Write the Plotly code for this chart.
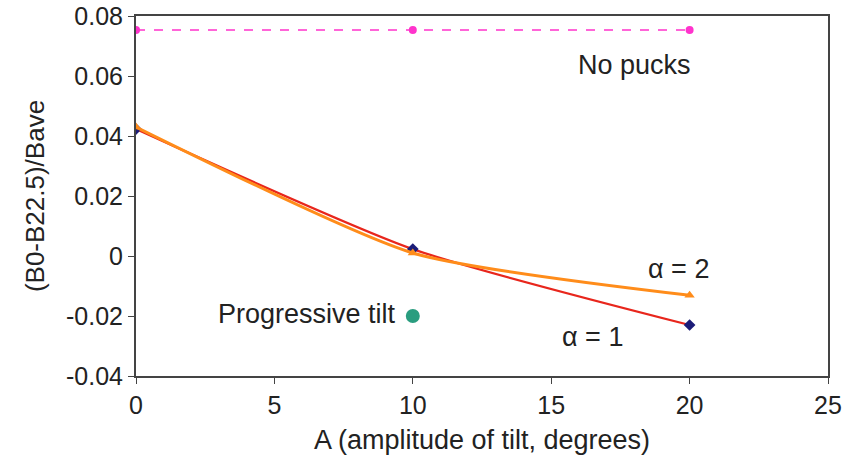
import plotly.graph_objects as go

x_vals = [0, 10, 20]
no_pucks = [0.0753, 0.0753, 0.0753]
alpha1 = [0.0423, 0.0023, -0.0230]
alpha2 = [0.0430, 0.0010, -0.0131]
prog_x = [10]
prog_y = [-0.0200]

font_family = "Liberation Sans, Arial, sans-serif"

fig = go.Figure()
fig.add_trace(go.Scatter(x=x_vals, y=no_pucks, mode="lines+markers",
                         line=dict(color="#ff33cc", width=1.5, dash="dash"),
                         marker=dict(color="#ff33cc", size=8, symbol="circle")))
fig.add_trace(go.Scatter(x=x_vals, y=alpha1, mode="lines+markers", line_shape="spline",
                         line=dict(color="#e8261c", width=2.2, smoothing=0.6),
                         marker=dict(color="#1c1c78", size=9, symbol="diamond")))
fig.add_trace(go.Scatter(x=x_vals, y=alpha2, mode="lines+markers", line_shape="spline",
                         line=dict(color="#ff8c1a", width=3, smoothing=0.6),
                         marker=dict(color="#ff8c1a", size=9, symbol="triangle-up")))
fig.add_trace(go.Scatter(x=prog_x, y=prog_y, mode="markers",
                         marker=dict(color="#2a9d7f", size=14, symbol="circle")))

ann_font = dict(family=font_family, size=27, color="#222222")
fig.add_annotation(x=18.0, y=0.0637, text="No pucks", showarrow=False, font=ann_font)
fig.add_annotation(x=19.6, y=-0.0043, text="α = 2", showarrow=False, font=ann_font)
fig.add_annotation(x=16.5, y=-0.0270, text="α = 1", showarrow=False, font=ann_font)
fig.add_annotation(x=9.45, y=-0.0192, text="Progressive tilt", showarrow=False,
                   xanchor="right", font=ann_font)

axis_common = dict(showgrid=False, zeroline=False, showline=True, linecolor="#444444",
                   linewidth=2, mirror=True, ticks="outside", ticklen=6, automargin=False,
                   ticklabeloverflow="allow",
                   tickcolor="#444444", tickfont=dict(family=font_family, size=25, color="#222222"))

fig.update_xaxes(range=[0, 25], tickvals=[0, 5, 10, 15, 20, 25],
                 title_text="A (amplitude of tilt, degrees)", title_standoff=12,
                 title_font=dict(family=font_family, size=27, color="#222222"), **axis_common)
fig.update_yaxes(range=[-0.04, 0.08], tickvals=[-0.04, -0.02, 0, 0.02, 0.04, 0.06, 0.08],
                 ticktext=["-0.04", "-0.02", "0", "0.02", "0.04", "0.06", "0.08"],
                 title_text="(B0-B22.5)/Bave", title_standoff=14,
                 title_font=dict(family=font_family, size=26, color="#222222"), **axis_common)

fig.update_layout(width=852, height=473, showlegend=False,
                  plot_bgcolor="white", paper_bgcolor="white",
                  margin=dict(l=136, r=24, t=16, b=97))

fig.write_html("out.html", config={"displayModeBar": False},
               post_script="document.body.style.margin='0';document.body.style.overflow='hidden';")
